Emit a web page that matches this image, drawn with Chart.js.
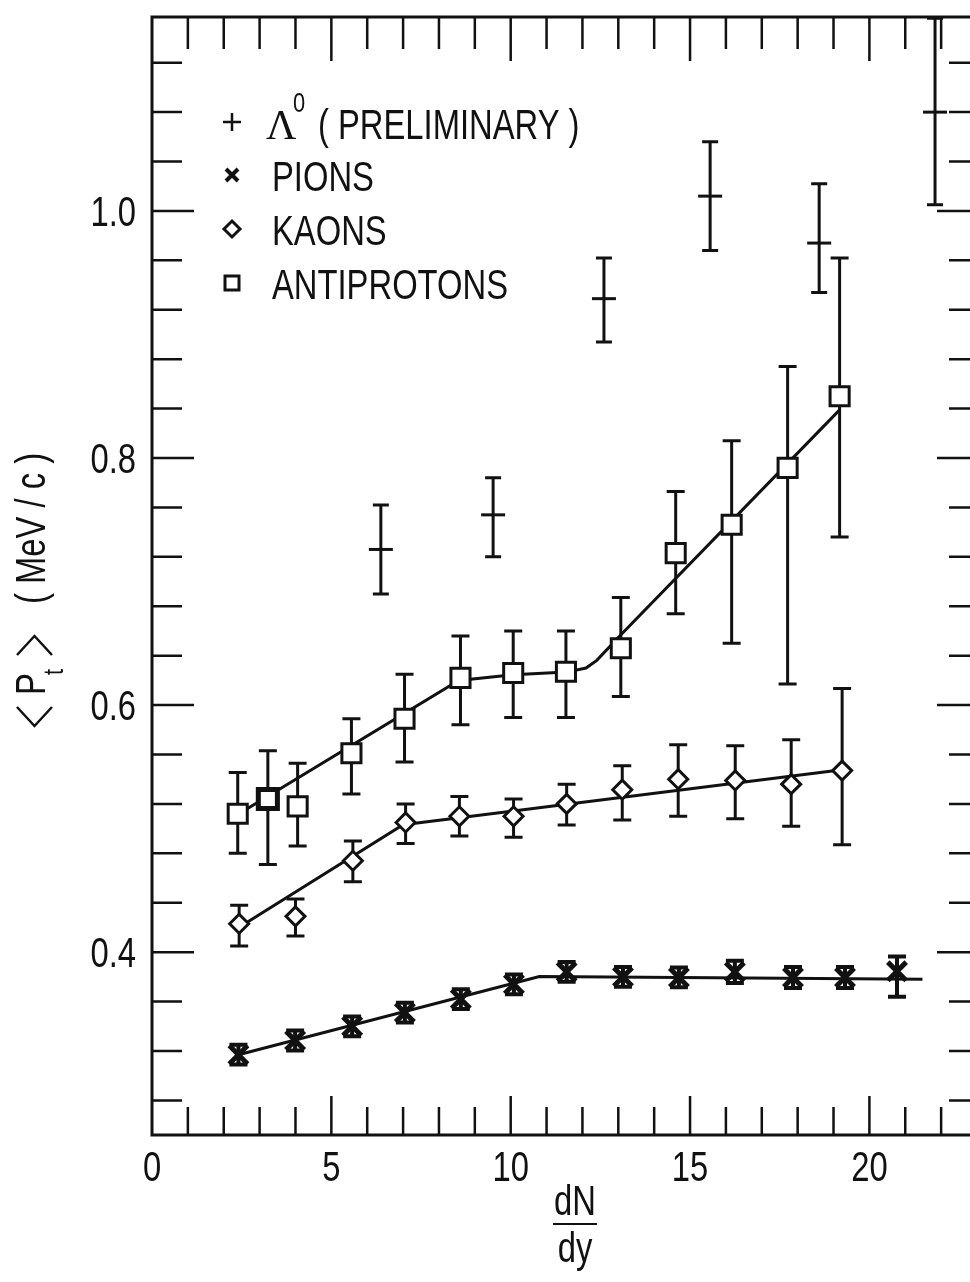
<!DOCTYPE html>
<html>
<head>
<meta charset="utf-8">
<script src="https://cdn.jsdelivr.net/npm/chart.js@4.4.0/dist/chart.umd.min.js"></script>
<style>
  html, body { margin: 0; padding: 0; background: #fff; overflow: hidden; }
  #wrap { position: relative; width: 985px; height: 1282px; }
</style>
</head>
<body>
<div id="wrap"><canvas id="ptChart" width="985" height="1282"></canvas></div>
<script>
// axis ticks
const xTicks = [0, 1, 2, 3, 4, 5, 6, 7, 8, 9, 10, 11, 12, 13, 14, 15, 16, 17, 18, 19, 20, 21, 22, 23];
const xLabels = [0, 5, 10, 15, 20];
const yTicks = [0.28, 0.32, 0.36, 0.40, 0.44, 0.48, 0.52, 0.56, 0.60, 0.64, 0.68, 0.72,
                0.76, 0.80, 0.84, 0.88, 0.92, 0.96, 1.00, 1.04, 1.08, 1.12];
const yLabels = [0.4, 0.6, 0.8, 1.0];

// Lambda0 (preliminary)
const lambdaX  = [6.38, 9.51, 12.6, 15.56, 18.6, 21.83];
const lambdaY  = [0.726, 0.754, 0.929, 1.012, 0.974, 1.080];
const lambdaLo = [0.690, 0.720, 0.894, 0.968, 0.934, 1.005];
const lambdaHi = [0.762, 0.784, 0.962, 1.056, 1.022, 1.156];

// pions
const pionX  = [2.41, 3.99, 5.58, 7.05, 8.61, 10.09, 11.56, 13.13, 14.69, 16.25, 17.87, 19.32, 20.77];
const pionY  = [0.317, 0.3285, 0.340, 0.351, 0.362, 0.374, 0.384, 0.380, 0.3795, 0.384, 0.3795, 0.3795, 0.3845];
const pionLo = [0.309, 0.3205, 0.332, 0.343, 0.354, 0.366, 0.376, 0.372, 0.3715, 0.375, 0.371, 0.371, 0.364];
const pionHi = [0.325, 0.3365, 0.348, 0.359, 0.370, 0.382, 0.392, 0.388, 0.3875, 0.393, 0.388, 0.388, 0.3965];

// kaons
const kaonX  = [2.43, 4.0, 5.6, 7.07, 8.57, 10.08, 11.56, 13.11, 14.67, 16.26, 17.82, 19.24];
const kaonY  = [0.423, 0.429, 0.474, 0.505, 0.510, 0.510, 0.520, 0.5315, 0.540, 0.539, 0.536, 0.547];
const kaonLo = [0.405, 0.413, 0.457, 0.488, 0.494, 0.493, 0.503, 0.507, 0.510, 0.508, 0.502, 0.487];
const kaonHi = [0.438, 0.443, 0.490, 0.520, 0.526, 0.524, 0.536, 0.551, 0.568, 0.567, 0.572, 0.6135];

// antiprotons
const pbarX  = [2.39, 3.23, 4.06, 5.56, 7.04, 8.6, 10.07, 11.54, 13.07, 14.6, 16.16, 17.72, 19.17];
const pbarY  = [0.512, 0.524, 0.518, 0.561, 0.589, 0.622, 0.626, 0.627, 0.646, 0.723, 0.746, 0.792, 0.850];
const pbarLo = [0.480, 0.471, 0.486, 0.528, 0.554, 0.584, 0.590, 0.590, 0.607, 0.674, 0.650, 0.617, 0.736];
const pbarHi = [0.5455, 0.563, 0.553, 0.589, 0.625, 0.656, 0.660, 0.660, 0.687, 0.773, 0.814, 0.874, 0.962];

// fitted curves
const pionFitX = [2.41, 10.8, 21.48];
const pionFitY = [0.317, 0.3803, 0.378];
const kaonFitX = [2.43, 7.0, 8.57, 19.24];
const kaonFitY = [0.4202, 0.5032, 0.5088, 0.5477];
const pbarFitX = [2.39, 8.55, 10.07, 11.56, 12.1, 12.4, 13.1, 19.17];
const pbarFitY = [0.5114, 0.620, 0.6246, 0.6267, 0.630, 0.6362, 0.6577, 0.839];

const SANS = '"Liberation Sans", Arimo, Helvetica, Arial, sans-serif';
const INK = '#111';

function pts(xs, ys) {
    return xs.map((x, i) => ({ x: x, y: ys[i] }));
}

// condensed text: Liberation Sans squeezed to look like Helvetica Narrow
function narrow(ctx, text, x, y, align, size) {
    ctx.save();
    ctx.font = size + 'px ' + SANS;
    ctx.textAlign = align;
    ctx.textBaseline = 'alphabetic';
    ctx.translate(x, y);
    ctx.scale(0.78, 1);
    ctx.fillText(text, 0, 0);
    ctx.restore();
}

const errorSets = [
    { x: lambdaX, lo: lambdaLo, hi: lambdaHi, w: 3, cap: 8 },
    { x: pbarX, lo: pbarLo, hi: pbarHi, w: 3, cap: 9 },
    { x: kaonX, lo: kaonLo, hi: kaonHi, w: 3, cap: 9 },
    { x: pionX, lo: pionLo, hi: pionHi, w: 4, cap: 9 }
];

const errorBars = {
    id: 'errorBars',
    beforeDatasetsDraw(chart) {
        const ctx = chart.ctx;
        const sx = chart.scales.x, sy = chart.scales.y;
        ctx.save();
        ctx.strokeStyle = INK;
        errorSets.forEach(set => {
            ctx.lineWidth = set.w;
            set.x.forEach((xv, i) => {
                const px = sx.getPixelForValue(xv);
                const top = sy.getPixelForValue(set.hi[i]);
                const bot = sy.getPixelForValue(set.lo[i]);
                ctx.beginPath();
                ctx.moveTo(px, top); ctx.lineTo(px, bot);
                ctx.moveTo(px - set.cap, top); ctx.lineTo(px + set.cap, top);
                ctx.moveTo(px - set.cap, bot); ctx.lineTo(px + set.cap, bot);
                ctx.stroke();
            });
        });
        ctx.restore();
    }
};

const frameTicks = {
    id: 'frameTicks',
    afterDatasetsDraw(chart) {
        const ctx = chart.ctx;
        const a = chart.chartArea;
        const sx = chart.scales.x, sy = chart.scales.y;
        ctx.save();
        ctx.strokeStyle = INK;
        ctx.lineWidth = 3;
        ctx.strokeRect(a.left, a.top, a.right - a.left, a.bottom - a.top);
        ctx.lineWidth = 2.5;
        ctx.beginPath();
        xTicks.forEach(v => {
            if (v === 0 || v === 23) return;
            const px = sx.getPixelForValue(v);
            const major = xLabels.includes(v);
            ctx.moveTo(px, a.bottom); ctx.lineTo(px, a.bottom - (major ? 39 : 28));
            ctx.moveTo(px, a.top); ctx.lineTo(px, a.top + (major ? 44 : 32));
        });
        yTicks.forEach(v => {
            const py = sy.getPixelForValue(v);
            const major = yLabels.some(l => Math.abs(l - v) < 1e-6);
            ctx.moveTo(a.left, py); ctx.lineTo(a.left + (major ? 42 : 30), py);
            ctx.moveTo(a.right, py); ctx.lineTo(a.right - (major ? 40 : 28), py);
        });
        ctx.stroke();

        // tick labels, placed with the chart scales
        ctx.fillStyle = INK;
        xLabels.forEach(v => {
            narrow(ctx, String(v), sx.getPixelForValue(v), a.bottom + 46, 'center', 42);
        });
        yLabels.forEach(v => {
            narrow(ctx, v.toFixed(1), a.left - 16, sy.getPixelForValue(v) + 15, 'right', 42);
        });
        ctx.restore();
    }
};

const textBits = {
    id: 'textBits',
    afterDraw(chart) {
        const ctx = chart.ctx;
        ctx.save();
        ctx.fillStyle = INK;
        ctx.strokeStyle = INK;

        // legend
        const lx = 232;
        ctx.lineWidth = 2.5;
        ctx.beginPath();
        ctx.moveTo(lx - 9, 122); ctx.lineTo(lx + 9, 122);
        ctx.moveTo(lx, 113); ctx.lineTo(lx, 131);
        ctx.stroke();
        ctx.lineWidth = 4;
        ctx.beginPath();
        ctx.moveTo(lx - 6, 169); ctx.lineTo(lx + 6, 181);
        ctx.moveTo(lx + 6, 169); ctx.lineTo(lx - 6, 181);
        ctx.stroke();
        ctx.lineWidth = 3;
        ctx.beginPath();
        ctx.moveTo(lx, 221); ctx.lineTo(lx + 8, 229); ctx.lineTo(lx, 237); ctx.lineTo(lx - 8, 229);
        ctx.closePath();
        ctx.stroke();
        ctx.strokeRect(lx - 7, 276, 14, 14);

        ctx.textBaseline = 'alphabetic';
        ctx.textAlign = 'left';
        ctx.font = '42px "Liberation Serif", serif';
        ctx.fillText('Λ', 266, 139);
        narrow(ctx, '0', 293, 112, 'left', 28);
        narrow(ctx, '( PRELIMINARY )', 318, 139, 'left', 42);
        narrow(ctx, 'PIONS', 272, 191, 'left', 42);
        narrow(ctx, 'KAONS', 272, 245, 'left', 42);
        narrow(ctx, 'ANTIPROTONS', 272, 299, 'left', 42);

        // x title dN / dy
        narrow(ctx, 'dN', 575, 1215, 'center', 42);
        narrow(ctx, 'dy', 575, 1262, 'center', 42);
        ctx.lineWidth = 2;
        ctx.beginPath();
        ctx.moveTo(553, 1224); ctx.lineTo(597, 1224);
        ctx.stroke();

        // y title <P_t> (MeV / c), rotated
        ctx.translate(0, 727);
        ctx.rotate(-Math.PI / 2);
        ctx.lineWidth = 2.5;
        ctx.beginPath();
        ctx.moveTo(20, 17); ctx.lineTo(1, 34.5); ctx.lineTo(20, 52);
        ctx.moveTo(72, 17); ctx.lineTo(91, 34.5); ctx.lineTo(72, 52);
        ctx.stroke();
        narrow(ctx, 'P', 32, 45, 'left', 42);
        narrow(ctx, 't', 52, 63, 'left', 28);
        narrow(ctx, '( MeV / c )', 123, 45, 'left', 42);
        ctx.restore();
    }
};

const ctx = document.getElementById('ptChart').getContext('2d');
const chart = new Chart(ctx, {
    type: 'scatter',
    data: {
        datasets: [
            {
                label: 'Lambda0',
                data: pts(lambdaX, lambdaY),
                pointStyle: 'line',
                pointRadius: 12,
                pointBorderWidth: 3,
                borderColor: INK,
                backgroundColor: INK,
                clip: false,
                order: 0
            },
            {
                label: 'Pions',
                data: pts(pionX, pionY),
                pointStyle: 'crossRot',
                pointRadius: 13,
                pointBorderWidth: 5,
                borderColor: INK,
                backgroundColor: INK,
                order: 0
            },
            {
                label: 'Kaons',
                data: pts(kaonX, kaonY),
                pointStyle: 'rectRot',
                pointRadius: 9.5,
                pointBorderWidth: 3,
                borderColor: INK,
                backgroundColor: '#fff',
                order: 0
            },
            {
                label: 'Antiprotons',
                data: pts(pbarX, pbarY),
                pointStyle: 'rect',
                pointRadius: 13.5,
                pointBorderWidth: [3, 5, 3, 3, 3, 3, 3, 3, 3, 3, 3, 3, 3],
                borderColor: INK,
                backgroundColor: '#fff',
                order: 0
            },
            {
                label: 'Pion fit',
                data: pts(pionFitX, pionFitY),
                showLine: true,
                pointRadius: 0,
                borderWidth: 3,
                borderColor: INK,
                order: 5
            },
            {
                label: 'Kaon fit',
                data: pts(kaonFitX, kaonFitY),
                showLine: true,
                pointRadius: 0,
                borderWidth: 3,
                borderColor: INK,
                order: 5
            },
            {
                label: 'Antiproton fit',
                data: pts(pbarFitX, pbarFitY),
                showLine: true,
                pointRadius: 0,
                borderWidth: 3,
                borderColor: INK,
                order: 5
            }
        ]
    },
    options: {
        responsive: false,
        maintainAspectRatio: false,
        animation: false,
        devicePixelRatio: 1,
        // right frame sits just past the window edge, as in the scan
        layout: { autoPadding: false, padding: { left: 0, right: 8, top: 17, bottom: 0 } },
        plugins: {
            legend: { display: false },
            tooltip: { enabled: false }
        },
        scales: {
            x: {
                type: 'linear',
                min: 0,
                max: 23,
                grid: { display: false, drawTicks: false },
                border: { display: false },
                afterBuildTicks: s => { s.ticks = xTicks.map(v => ({ value: v })); },
                afterFit: s => { s.height = 147; s.paddingLeft = 0; s.paddingRight = 0; },
                ticks: { display: false }
            },
            y: {
                type: 'linear',
                min: 0.252,
                max: 1.157,
                grid: { display: false, drawTicks: false },
                border: { display: false },
                afterBuildTicks: s => { s.ticks = yTicks.map(v => ({ value: v })); },
                afterFit: s => { s.width = 152; s.paddingTop = 0; s.paddingBottom = 0; },
                ticks: { display: false }
            }
        }
    },
    plugins: [errorBars, frameTicks, textBits]
});
</script>
</body>
</html>
